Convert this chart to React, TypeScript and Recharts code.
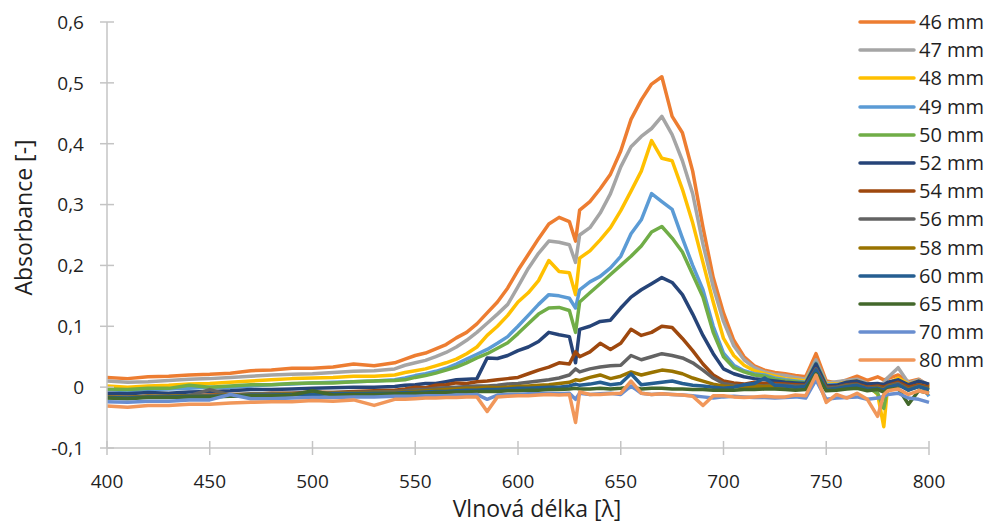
import { LineChart, Line, XAxis, YAxis, Legend, Label } from "recharts";

// wavelength grid (nm) – denser in the peak region
const wavelengths = [
  400, 410, 420, 430, 440, 450, 460, 470, 480, 490, 500, 510, 520, 530, 540,
  545, 550, 555, 560, 565, 570, 575, 580, 585, 590, 595, 600, 605, 610, 615, 620, 625,
  628,
  630, 635, 640, 645, 650, 655, 660, 665, 670, 675, 680, 685, 690, 695, 700, 705, 710, 715, 720,
  725, 730, 735, 740, 745, 750, 755, 760, 765, 770, 775,
  778,
  780, 785, 790, 795, 800,
];

const s46 = [
  0.016, 0.014, 0.017, 0.018, 0.02, 0.021, 0.023, 0.027, 0.028, 0.031, 0.031, 0.033, 0.038, 0.035, 0.04,
  0.046, 0.052, 0.056, 0.063, 0.07, 0.081, 0.09, 0.104, 0.122, 0.14, 0.163, 0.192, 0.218, 0.244, 0.268, 0.279, 0.272,
  0.24,
  0.291, 0.305, 0.326, 0.35, 0.388, 0.44, 0.472, 0.498, 0.51, 0.445, 0.418, 0.355, 0.263, 0.18, 0.122, 0.077, 0.05, 0.035, 0.028,
  0.024, 0.022, 0.019, 0.017, 0.055, 0.01, 0.007, 0.012, 0.018, 0.011, 0.017,
  0.012,
  0.014, 0.02, 0.009, 0.013, 0.002,
];
const s47 = [
  0.01, 0.008, 0.009, 0.011, 0.013, 0.014, 0.016, 0.018, 0.02, 0.021, 0.022, 0.024, 0.026, 0.027, 0.03,
  0.036, 0.04, 0.044, 0.05, 0.057, 0.066, 0.077, 0.09, 0.105, 0.12, 0.136, 0.165, 0.195, 0.22, 0.24, 0.238, 0.234,
  0.205,
  0.25, 0.262, 0.286, 0.318, 0.362, 0.395, 0.412, 0.425, 0.445, 0.415, 0.372, 0.318, 0.235, 0.165, 0.108, 0.068, 0.045, 0.032, 0.025,
  0.021, 0.019, 0.016, 0.013, 0.045, 0.007, 0.009, 0.011, 0.013, 0.006, 0.002,
  0.007,
  0.016, 0.032, 0.007, 0.012, 0.004,
];
const s48 = [
  0.002, 0.0, 0.002, 0.003, 0.005, 0.006, 0.008, 0.01, 0.012, 0.014, 0.015, 0.016, 0.018, 0.018, 0.02,
  0.024, 0.027, 0.03, 0.035, 0.04, 0.046, 0.055, 0.066, 0.085, 0.1, 0.118, 0.14, 0.155, 0.175, 0.208, 0.19, 0.188,
  0.152,
  0.212, 0.224, 0.242, 0.262, 0.29, 0.322, 0.355, 0.405, 0.376, 0.372, 0.325, 0.27, 0.205, 0.14, 0.08, 0.052, 0.036, 0.027, 0.022,
  0.018, 0.014, 0.012, 0.01, 0.04, 0.005, 0.005, 0.008, 0.01, 0.004, -0.012,
  -0.065,
  0.006, 0.015, 0.005, 0.01, 0.0,
];
const s49 = [
  -0.004, -0.006, -0.004, -0.003, -0.002, 0.0, 0.0, 0.002, 0.004, 0.005, 0.007, 0.008, 0.009, 0.01, 0.012,
  0.015, 0.019, 0.022, 0.026, 0.031, 0.038, 0.046, 0.054, 0.062, 0.072, 0.083, 0.1, 0.118, 0.136, 0.152, 0.15, 0.146,
  0.13,
  0.16, 0.173, 0.182, 0.196, 0.215, 0.252, 0.275, 0.318, 0.305, 0.292, 0.245, 0.2, 0.16, 0.1, 0.056, 0.036, 0.027, 0.022, 0.02,
  0.015, 0.012, 0.01, 0.008, 0.04, 0.004, 0.004, 0.007, 0.008, 0.002, 0.0,
  -0.005,
  0.004, 0.012, 0.0, 0.008, -0.015,
];
const s50 = [
  -0.003, -0.004, -0.002, -0.002, 0.003, 0.0, 0.002, 0.004, 0.004, 0.006, 0.007, 0.007, 0.009, 0.01, 0.011,
  0.012, 0.016, 0.019, 0.023, 0.028, 0.033, 0.04, 0.048, 0.055, 0.064, 0.073, 0.088, 0.104, 0.12, 0.13, 0.131, 0.126,
  0.09,
  0.14, 0.155, 0.17, 0.185, 0.2, 0.215, 0.232, 0.255, 0.264, 0.245, 0.222, 0.185, 0.148, 0.09, 0.05, 0.032, 0.025, 0.02, 0.018,
  0.013, 0.01, 0.009, 0.007, 0.038, 0.003, 0.002, 0.005, 0.007, 0.0, -0.01,
  -0.035,
  0.002, 0.01, -0.005, 0.005, -0.005,
];
const s52 = [
  -0.01, -0.011, -0.009, -0.01, -0.008, -0.007, -0.006, -0.004, -0.004, -0.003, -0.002, -0.001, 0.0, 0.0, 0.001,
  0.003, 0.004, 0.006, 0.006, 0.009, 0.012, 0.013, 0.014, 0.048, 0.047, 0.052, 0.06, 0.066, 0.075, 0.09, 0.086, 0.083,
  0.04,
  0.095, 0.1, 0.108, 0.11, 0.13, 0.148, 0.16, 0.17, 0.18, 0.172, 0.152, 0.12, 0.085, 0.055, 0.03, 0.022, 0.017, 0.014, 0.012,
  0.01, 0.008, 0.007, 0.006, 0.038, 0.002, 0.003, 0.008, 0.01, 0.005, 0.006,
  0.004,
  0.008, 0.012, 0.004, 0.01, 0.005,
];
const s54 = [
  -0.016, -0.017, -0.015, -0.016, -0.014, -0.013, -0.012, -0.012, -0.01, -0.01, -0.008, -0.009, -0.007, -0.006, -0.005,
  -0.003, 0.0, -0.001, 0.003, 0.004, 0.007, 0.006, 0.009, 0.01, 0.012, 0.014, 0.016, 0.022, 0.028, 0.033, 0.04, 0.038,
  0.058,
  0.05, 0.058, 0.072, 0.062, 0.072, 0.095, 0.085, 0.09, 0.1, 0.098, 0.08, 0.06, 0.038, 0.02, 0.01, 0.007, 0.005, 0.008, 0.006,
  0.006, 0.005, 0.004, 0.003, 0.03, 0.0, 0.0, 0.004, 0.005, 0.0, 0.002,
  0.0,
  0.003, 0.008, 0.0, 0.004, 0.0,
];
const s56 = [
  -0.017, -0.016, -0.016, -0.015, -0.014, -0.004, -0.013, -0.011, -0.011, -0.01, -0.01, -0.009, -0.009, -0.008, -0.007,
  -0.006, -0.004, -0.004, -0.002, -0.001, 0.0, 0.001, 0.002, 0.002, 0.003, 0.005, 0.006, 0.008, 0.01, 0.012, 0.015, 0.02,
  0.03,
  0.025, 0.03, 0.033, 0.035, 0.036, 0.052, 0.045, 0.05, 0.055, 0.052, 0.048, 0.04, 0.028, 0.015, 0.006, 0.003, 0.002, 0.003, 0.002,
  0.004, 0.003, 0.002, 0.002, 0.03, -0.002, 0.0, 0.003, 0.004, -0.002, 0.0,
  -0.003,
  0.002, 0.006, -0.003, 0.002, -0.002,
];
const s58 = [
  -0.016, -0.017, -0.015, -0.015, -0.014, -0.014, -0.013, -0.012, -0.012, -0.011, -0.011, -0.01, -0.01, -0.009, -0.009,
  -0.008, -0.007, -0.006, -0.005, -0.004, -0.003, -0.002, -0.002, 0.0, -0.001, 0.0, 0.001, 0.002, 0.003, 0.004, 0.006, 0.008,
  0.012,
  0.011, 0.016, 0.02, 0.014, 0.018, 0.025, 0.02, 0.024, 0.028, 0.026, 0.022, 0.015, 0.01, 0.005, 0.002, 0.001, 0.0, 0.002, 0.001,
  0.002, 0.001, 0.0, 0.001, 0.025, -0.003, -0.002, 0.002, 0.003, -0.003, -0.001,
  -0.004,
  0.001, 0.004, -0.004, 0.001, -0.003,
];
const s60 = [
  -0.017, -0.018, -0.016, -0.016, -0.015, -0.015, -0.014, -0.013, -0.013, -0.012, -0.012, -0.011, -0.011, -0.01, -0.01,
  -0.009, -0.009, -0.008, -0.007, -0.007, -0.006, -0.005, -0.005, -0.004, -0.004, -0.003, -0.002, -0.002, -0.001, 0.0, 0.0, 0.002,
  0.005,
  0.003, 0.005, 0.008, 0.004, 0.006, 0.022, 0.004, 0.006, 0.008, 0.01, 0.006, 0.003, 0.002, 0.0, -0.002, 0.0, 0.004, 0.006, 0.015,
  0.003, 0.002, 0.0, 0.001, 0.028, -0.004, -0.002, 0.001, 0.003, -0.003, -0.002,
  -0.005,
  0.0, 0.004, -0.005, 0.001, -0.004,
];
const s65 = [
  -0.018, -0.019, -0.017, -0.017, -0.016, -0.016, -0.015, -0.014, -0.014, -0.013, -0.006, -0.013, -0.012, -0.012, -0.011,
  -0.011, -0.01, -0.01, -0.009, -0.009, -0.008, -0.008, -0.007, -0.007, -0.007, -0.006, -0.006, -0.005, -0.005, -0.004, -0.004, -0.003,
  -0.002,
  -0.003, -0.003, -0.002, -0.003, -0.002, 0.0, -0.003, -0.002, -0.002, -0.003, -0.003, -0.004, -0.004, -0.005, -0.005, -0.005, -0.004, -0.004, -0.003,
  -0.003, -0.004, -0.005, -0.004, 0.022, -0.006, -0.005, -0.003, -0.002, -0.006, -0.004,
  -0.008,
  -0.004, -0.002, -0.028, -0.006, -0.01,
];
const s70 = [
  -0.024, -0.025, -0.023, -0.023, -0.021, -0.021, -0.012, -0.019, -0.019, -0.018, -0.017, -0.017, -0.016, -0.016, -0.015,
  -0.015, -0.015, -0.014, -0.014, -0.014, -0.013, -0.013, -0.012, -0.02, -0.013, -0.012, -0.012, -0.011, -0.011, -0.01, -0.011, -0.01,
  -0.02,
  -0.01, -0.012, -0.011, -0.01, -0.012, 0.002, -0.01, -0.012, -0.011, -0.012, -0.013, -0.014, -0.016, -0.018, -0.016, -0.015, -0.016, -0.017, -0.017,
  -0.018, -0.017, -0.016, -0.018, 0.012, -0.02, -0.018, -0.017, -0.016, -0.02, -0.018,
  -0.015,
  -0.012, -0.01, -0.018, -0.02, -0.025,
];
const s80 = [
  -0.031, -0.033, -0.03, -0.03, -0.028, -0.028, -0.026, -0.025, -0.024, -0.024, -0.022, -0.023, -0.021, -0.03, -0.02,
  -0.02, -0.019, -0.018, -0.018, -0.017, -0.017, -0.016, -0.016, -0.04, -0.016, -0.015, -0.014, -0.014, -0.013, -0.012, -0.013, -0.012,
  -0.058,
  -0.008, -0.012, -0.012, -0.011, -0.01, 0.01, -0.01, -0.012, -0.011, -0.012, -0.013, -0.015, -0.03, -0.014, -0.014, -0.016, -0.017, -0.016, -0.015,
  -0.016, -0.016, -0.013, -0.014, 0.02, -0.025, -0.012, -0.018, -0.01, -0.02, -0.048,
  -0.012,
  -0.006, -0.003, -0.012, -0.006, -0.01,
];

const seriesNames = [
  "46 mm", "47 mm", "48 mm", "49 mm", "50 mm", "52 mm", "54 mm",
  "56 mm", "58 mm", "60 mm", "65 mm", "70 mm", "80 mm",
];
const seriesValues = [s46, s47, s48, s49, s50, s52, s54, s56, s58, s60, s65, s70, s80];
const seriesColors = [
  "#ED7D31", "#A5A5A5", "#FFC000", "#5B9BD5", "#70AD47", "#264478", "#9E480E",
  "#636363", "#997300", "#255E91", "#43682B", "#698ED0", "#F1975A",
];

const xTicks = [400, 450, 500, 550, 600, 650, 700, 750, 800];
const yTicks = [-0.1, 0, 0.1, 0.2, 0.3, 0.4, 0.5, 0.6];

const FONT = '"Open Sans", sans-serif';
const TEXT = "#1f1f1f";
const AXIS = "#c4c4c4";

const data = wavelengths.map((w, i) => {
  const row: Record<string, number> = { w };
  seriesValues.forEach((vals, k) => {
    row[`s${k}`] = vals[i];
  });
  return row;
});

const fmtY = (v: number) => (v === 0 ? "0" : v.toFixed(1).replace(".", ","));

function YTick(props: any) {
  const { x, y, payload } = props;
  return (
    <g>
      <line x1={x - 7} x2={x + 7} y1={y} y2={y} stroke={AXIS} strokeWidth={1.5} />
      <text x={x - 23} y={y} dy="0.36em" textAnchor="end" fontFamily={FONT} fontSize={19} fill={TEXT}>
        {fmtY(payload.value)}
      </text>
    </g>
  );
}

function XTick(props: any) {
  const { x, y, payload } = props;
  return (
    <g>
      <line x1={x} x2={x} y1={y - 7} y2={y + 7} stroke={AXIS} strokeWidth={1.5} />
      <text x={x} y={y + 40} textAnchor="middle" fontFamily={FONT} fontSize={19} fill={TEXT}>
        {payload.value}
      </text>
    </g>
  );
}

function LegendList(props: any) {
  const { payload } = props;
  return (
    <div style={{ fontFamily: FONT, fontSize: 20, color: TEXT }}>
      {(payload || []).map((item: any) => (
        <div key={item.value} style={{ height: 28.2, display: "flex", alignItems: "center" }}>
          <svg width={61} height={10}>
            <line x1={2} x2={56} y1={5} y2={5} stroke={item.color} strokeWidth={3.5} strokeLinecap="round" />
          </svg>
          <span style={{ lineHeight: "28px" }}>{item.value}</span>
        </div>
      ))}
    </div>
  );
}

export default function App() {
  return (
    <div style={{ position: "absolute", left: 0, top: 0, background: "#fff" }}>
      <LineChart width={990} height={525} data={data} margin={{ top: 22, right: 61, bottom: 0, left: 0 }}>
        <XAxis
          dataKey="w"
          type="number"
          domain={[400, 800]}
          ticks={xTicks}
          interval={0}
          height={77}
          tickSize={0}
          tickMargin={0}
          tickLine={false}
          axisLine={{ stroke: AXIS, strokeWidth: 1.5 }}
          tick={<XTick />}
        >
          <Label
            value="Vlnová délka [λ]"
            content={() => (
              <text x={537} y={517} textAnchor="middle" fontFamily={FONT} fontSize={23} fill={TEXT}>
                Vlnová délka [λ]
              </text>
            )}
          />
        </XAxis>
        <YAxis
          type="number"
          domain={[-0.1, 0.6]}
          ticks={yTicks}
          interval={0}
          width={107}
          tickSize={0}
          tickMargin={0}
          tickLine={false}
          axisLine={{ stroke: AXIS, strokeWidth: 1.5 }}
          tick={<YTick />}
        >
          <Label
            value="Absorbance [-]"
            content={() => (
              <text
                x={32}
                y={217.5}
                transform="rotate(-90, 32, 217.5)"
                textAnchor="middle"
                fontFamily={FONT}
                fontSize={23}
                fill={TEXT}
              >
                Absorbance [-]
              </text>
            )}
          />
        </YAxis>
        <Legend
          layout="horizontal"
          align="center"
          verticalAlign="middle"
          content={<LegendList />}
          wrapperStyle={{ left: 858, top: 8, width: 132, height: "auto" }}
        />
        {seriesNames.map((name, k) => (
          <Line
            key={name}
            dataKey={`s${k}`}
            name={name}
            type="linear"
            stroke={seriesColors[k]}
            strokeWidth={3.5}
            strokeLinejoin="round"
            dot={false}
            activeDot={false}
            isAnimationActive={false}
          />
        ))}
      </LineChart>
    </div>
  );
}
